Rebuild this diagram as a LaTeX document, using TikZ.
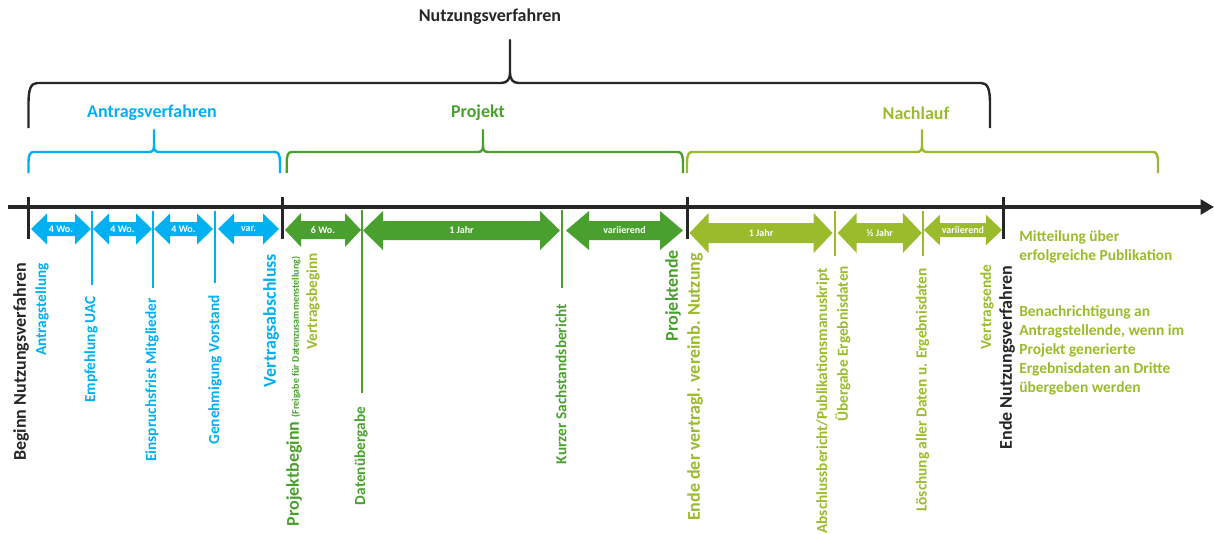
\documentclass[tikz,border=0pt]{standalone}
\usepackage{fontspec}
\setmainfont{Carlito}
\usetikzlibrary{arrows.meta}

\definecolor{tlblue}{HTML}{00B0F0}
\definecolor{tlgreen}{HTML}{4AA02E}
\definecolor{tllime}{HTML}{9ABB2C}
\definecolor{tlblack}{HTML}{262626}

\tikzset{
  big/.style={rotate=90,inner sep=0pt,font=\bfseries\fontsize{13.5}{16}\selectfont},
  sml/.style={rotate=90,inner sep=0pt,font=\bfseries\fontsize{11.5}{14}\selectfont},
  lbl/.style={inner sep=0pt,text=white,font=\bfseries\fontsize{7.5}{9}\selectfont},
  ttl/.style={inner sep=0pt,font=\bfseries\fontsize{13.5}{16}\selectfont},
  side/.style={anchor=west,align=left,inner sep=0pt,text=tllime,font=\bfseries\fontsize{11.6}{14.3}\selectfont},
  mtick/.style={line width=1.5pt},
  btick/.style={line width=2.25pt,tlblack},
  hbrace/.style={line width=1.8pt,line join=round}
}

% double block arrow: name, x1, x2, y, head half, shaft half, head length, colour, text
\newcommand{\dblarrow}[9]{%
  \fill[#8] (#2,#4) -- (#2+#7,#4-#5) -- (#2+#7,#4-#6) -- (#3-#7,#4-#6) -- (#3-#7,#4-#5)
    -- (#3,#4) -- (#3-#7,#4+#5) -- (#3-#7,#4+#6) -- (#2+#7,#4+#6) -- (#2+#7,#4+#5) -- cycle;
  \node[lbl] (#1) at ({(#2+#3)/2},#4) {#9};}

% curly brace: colour, left, tip, right, arm end, bar, tip top, corner size
\newcommand{\curly}[8]{%
  \draw[hbrace,#1] (#2,#5) -- (#2,#6+2.2*#8) .. controls (#2,#6+0.6*#8) and (#2+0.3*#8,#6) .. (#2+#8,#6)
    -- (#3-#8,#6) .. controls (#3-0.3*#8,#6) and (#3,#6-0.4*#8) .. (#3,#6-1.2*#8) -- (#3,#7)
    -- (#3,#6-1.2*#8) .. controls (#3,#6-0.4*#8) and (#3+0.3*#8,#6) .. (#3+#8,#6)
    -- (#4-#8,#6) .. controls (#4-0.3*#8,#6) and (#4,#6+0.6*#8) .. (#4,#6+2.2*#8) -- (#4,#5);}

\begin{document}
\begin{tikzpicture}[x=0.75pt,y=-0.75pt]
  \useasboundingbox (0,0) rectangle (1214,533);

  % braces
  \curly{tlblack}{28.5}{510}{990}{128}{83}{40}{9}
  \curly{tlblue}{28.5}{154}{280}{173}{152}{130}{5}
  \curly{tlgreen}{286.7}{483}{683}{173}{152}{130}{5}
  \curly{tllime}{687}{922}{1158}{173}{152}{130}{5}
  \node[ttl,tlblack] (nutzung) at (490,17) {Nutzungsverfahren};
  \node[ttl,tlblue] (antragsv) at (152,113) {Antragsverfahren};
  \node[ttl,tlgreen] (projekt) at (478,113) {Projekt};
  \node[ttl,tllime] (nachlauf) at (916,113) {Nachlauf};

  % time axis
  \coordinate (tstart) at (8,207);
  \coordinate (tend) at (1214,207);
  \draw[line width=3pt,tlblack,-{Triangle[length=10pt,width=11pt]}] (tstart) -- (tend);

  % ticks
  \draw[btick] (28,197) -- (28,239);
  \draw[btick] (282,197) -- (282,239);
  \draw[btick] (687,197) -- (687,239);
  \draw[btick] (1003,197) -- (1003,239);
  \draw[mtick,tlblue] (92,211) -- (92,285);
  \draw[mtick,tlblue] (153,211) -- (153,288);
  \draw[mtick,tlblue] (215,211) -- (215,283);
  \draw[mtick,tlgreen] (362,210) -- (362,393);
  \draw[mtick,tlgreen] (562,210) -- (562,288);
  \draw[mtick,tllime] (835,211) -- (835,256);
  \draw[mtick,tllime] (922.5,211) -- (922.5,256);

  % durations
  \dblarrow{d1}{31}{91}{229}{15.5}{7}{16}{tlblue}{4 Wo.}
  \dblarrow{d2}{93}{152}{229}{15.5}{7}{16}{tlblue}{4 Wo.}
  \dblarrow{d3}{154}{213}{229}{15.5}{7}{16}{tlblue}{4 Wo.}
  \dblarrow{d4}{218}{279}{229}{15.5}{7}{16}{tlblue}{var.}
  \dblarrow{d5}{285}{361}{230}{17}{9}{16}{tlgreen}{6 Wo.}
  \dblarrow{d6}{363}{560}{230.5}{19.5}{9.5}{20}{tlgreen}{1 Jahr}
  \dblarrow{d7}{566}{683}{230.5}{19.5}{9.5}{23}{tlgreen}{variierend}
  \dblarrow{d8}{689.5}{832.6}{233}{20}{10}{19}{tllime}{1 Jahr}
  \dblarrow{d9}{837.7}{921.8}{233}{20}{10}{19}{tllime}{½ Jahr}
  \dblarrow{d10}{923.9}{1002}{230}{15.3}{7}{16}{tllime}{variierend}

  % milestones
  \node[big,tlblack] (beginn) at (21,362) {Beginn Nutzungsverfahren};
  \node[sml,tlblue] (antrag) at (42,309.5) {Antragstellung};
  \node[sml,tlblue] (uac) at (91,349.5) {Empfehlung UAC};
  \node[sml,tlblue] (einspruch) at (152,380) {Einspruchsfrist Mitglieder};
  \node[sml,tlblue] (vorstand) at (215,370) {Genehmigung Vorstand};
  \node[big,tlblue] (vabschluss) at (271,320.5) {Vertragsabschluss};
  \node[big,tlgreen] (pbeginn) at (294,391.5) {Projektbeginn {\fontsize{7.5}{9}\selectfont (Freigabe für Datenzusammenstellung)}};
  \node[sml,tllime] (vbeginn) at (313,301.5) {Vertragsbeginn};
  \node[sml,tlgreen] (datenueb) at (361,456) {Datenübergabe};
  \node[sml,tlgreen] (sachstand) at (561,384) {Kurzer Sachstandsbericht};
  \node[big,tlgreen] (pende) at (673,295.5) {Projektende};
  \node[big,tllime] (nutzende) at (695,387) {Ende der vertragl. vereinb. Nutzung};
  \node[sml,tllime] (abschluss) at (823,401) {Abschlussbericht/Publikationsmanuskript};
  \node[sml,tllime] (uebergabe) at (843,344) {Übergabe Ergebnisdaten};
  \node[sml,tllime] (loeschung) at (922.5,390) {Löschung aller Daten u. Ergebnisdaten};
  \node[sml,tllime] (vende) at (987,307) {Vertragsende};
  \node[big,tlblack] (nvende) at (1007,357.5) {Ende Nutzungsverfahren};

  % notes
  \node[side] (mitteilung) at (1019,246.5) {Mitteilung über\\erfolgreiche Publikation};
  \node[side] (benachr) at (1019,350.5) {Benachrichtigung an\\Antragstellende, wenn im\\Projekt generierte\\Ergebnisdaten an Dritte\\übergeben werden};
\end{tikzpicture}
\end{document}
